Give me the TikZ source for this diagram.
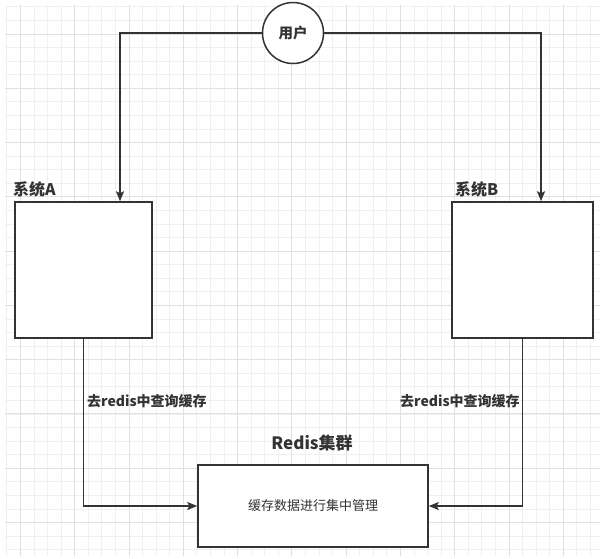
\documentclass[tikz,border=0pt]{standalone}
\usepackage{fontspec}
\setmainfont{Noto Sans CJK SC}
\usetikzlibrary{arrows.meta}
\definecolor{minorg}{RGB}{240,240,240}
\definecolor{majorg}{RGB}{224,224,224}
\definecolor{ink}{RGB}{51,51,51}
\tikzset{
  boxnode/.style={draw=ink, line width=1.5pt, fill=white, rectangle, inner sep=0pt},
  usernode/.style={draw=ink, line width=1.5pt, fill=white, circle, minimum size=61pt, inner sep=0pt, font=\bfseries\fontsize{14.5}{16}\selectfont, text=ink},
  labeltext/.style={inner sep=0pt, text=ink, font=\bfseries\fontsize{14}{16}\selectfont},
  titletext/.style={inner sep=0pt, text=ink, font=\bfseries\fontsize{16}{18}\selectfont},
  conn/.style={draw=ink, line width=1.5pt, -{Stealth[length=10pt,width=8pt,inset=2pt]}},
}
\begin{document}
\begin{tikzpicture}[x=1pt,y=-1pt]
\useasboundingbox (0,0) rectangle (604,558);
\fill[white] (0,0) rectangle (604,558);
% grid
\begin{scope}
\clip (5,5) rectangle (600,556);
\foreach \i in {0,...,43} \draw[minorg, line width=1pt] ({6.93+13.57*\i},5) -- ({6.93+13.57*\i},556);
\foreach \j in {0,...,40} \draw[minorg, line width=1pt] (5,{6.9+13.57*\j}) -- (600,{6.9+13.57*\j});
\foreach \i in {0,...,10} \draw[majorg, line width=1pt] ({20.5+54.28*\i},5) -- ({20.5+54.28*\i},556);
\foreach \j in {0,...,9} \draw[majorg, line width=1pt] (5,{34+54.28*\j}) -- (600,{34+54.28*\j});
\end{scope}
% nodes
\node[usernode] (user) at (293,33) {用户};
\node[boxnode, minimum width=137pt, minimum height=136pt] (sysA) at (83.5,270) {};
\node[boxnode, minimum width=141pt, minimum height=136pt] (sysB) at (522.5,270) {};
\node[boxnode, minimum width=230pt, minimum height=82pt, font=\fontsize{13}{15}\selectfont, text=ink] (redis) at (313,506) {缓存数据进行集中管理};
% labels
\node[titletext, anchor=west] (labA) at (13,189) {系统A};
\node[titletext, anchor=west] (labB) at (455,189) {系统B};
\node[labeltext, anchor=west] (qA) at (87,401) {去redis中查询缓存};
\node[labeltext, anchor=west] (qB) at (400,401) {去redis中查询缓存};
\node[titletext, font=\bfseries\fontsize{17}{19}\selectfont] (labR) at (312,443) {Redis集群};
% connectors
\draw[conn] (user.west) -| ([xshift=36.5pt]sysA.north);
\draw[conn] (user.east) -| ([xshift=18.5pt]sysB.north);
\draw[conn] (sysA.south) |- (redis.west);
\draw[conn] (sysB.south) |- (redis.east);
\end{tikzpicture}
\end{document}
